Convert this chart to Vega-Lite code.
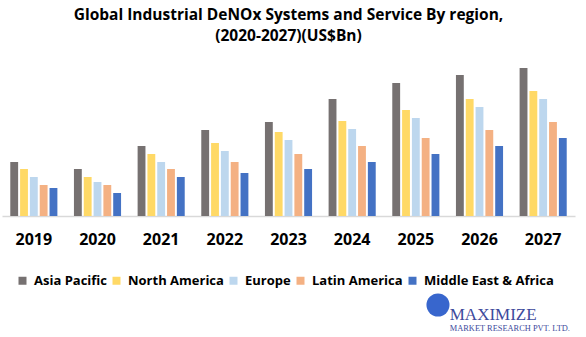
{
  "$schema": "https://vega.github.io/schema/vega-lite/v6.json",
  "autosize": "none",
  "width": 573,
  "height": 166,
  "padding": {"left": 2, "top": 50, "right": 11, "bottom": 121},
  "background": "white",
  "config": {"view": {"stroke": null}},
  "title": {
    "text": ["Global Industrial DeNOx Systems and Service By region,", "(2020-2027)(US$Bn)"],
    "font": "Open Sans",
    "fontSize": 15.5,
    "fontWeight": "bold",
    "color": "#000000",
    "anchor": "middle",
    "lineHeight": 21,
    "offset": 6
  },
  "datasets": {
    "bars": [
      {"year": "2019", "region": "Asia Pacific", "value": 5.4},
      {"year": "2019", "region": "North America", "value": 4.7},
      {"year": "2019", "region": "Europe", "value": 3.9},
      {"year": "2019", "region": "Latin America", "value": 3.1},
      {"year": "2019", "region": "Middle East & Africa", "value": 2.8},
      {"year": "2020", "region": "Asia Pacific", "value": 4.7},
      {"year": "2020", "region": "North America", "value": 3.9},
      {"year": "2020", "region": "Europe", "value": 3.4},
      {"year": "2020", "region": "Latin America", "value": 3.1},
      {"year": "2020", "region": "Middle East & Africa", "value": 2.3},
      {"year": "2021", "region": "Asia Pacific", "value": 7.0},
      {"year": "2021", "region": "North America", "value": 6.2},
      {"year": "2021", "region": "Europe", "value": 5.4},
      {"year": "2021", "region": "Latin America", "value": 4.7},
      {"year": "2021", "region": "Middle East & Africa", "value": 3.9},
      {"year": "2022", "region": "Asia Pacific", "value": 8.6},
      {"year": "2022", "region": "North America", "value": 7.3},
      {"year": "2022", "region": "Europe", "value": 6.5},
      {"year": "2022", "region": "Latin America", "value": 5.4},
      {"year": "2022", "region": "Middle East & Africa", "value": 4.3},
      {"year": "2023", "region": "Asia Pacific", "value": 9.4},
      {"year": "2023", "region": "North America", "value": 8.4},
      {"year": "2023", "region": "Europe", "value": 7.6},
      {"year": "2023", "region": "Latin America", "value": 6.2},
      {"year": "2023", "region": "Middle East & Africa", "value": 4.7},
      {"year": "2024", "region": "Asia Pacific", "value": 11.7},
      {"year": "2024", "region": "North America", "value": 9.5},
      {"year": "2024", "region": "Europe", "value": 8.7},
      {"year": "2024", "region": "Latin America", "value": 7.0},
      {"year": "2024", "region": "Middle East & Africa", "value": 5.4},
      {"year": "2025", "region": "Asia Pacific", "value": 13.3},
      {"year": "2025", "region": "North America", "value": 10.6},
      {"year": "2025", "region": "Europe", "value": 9.8},
      {"year": "2025", "region": "Latin America", "value": 7.8},
      {"year": "2025", "region": "Middle East & Africa", "value": 6.2},
      {"year": "2026", "region": "Asia Pacific", "value": 14.1},
      {"year": "2026", "region": "North America", "value": 11.7},
      {"year": "2026", "region": "Europe", "value": 10.9},
      {"year": "2026", "region": "Latin America", "value": 8.6},
      {"year": "2026", "region": "Middle East & Africa", "value": 7.0},
      {"year": "2027", "region": "Asia Pacific", "value": 14.8},
      {"year": "2027", "region": "North America", "value": 12.5},
      {"year": "2027", "region": "Europe", "value": 11.7},
      {"year": "2027", "region": "Latin America", "value": 9.4},
      {"year": "2027", "region": "Middle East & Africa", "value": 7.8}
    ],
    "logo": [
      {"year": "2025", "label": "MAXIMIZE", "pos": -9.9, "kind": "big"},
      {"year": "2025", "label": "MARKET RESEARCH PVT. LTD.", "pos": -11.2, "kind": "small"}
    ],
    "globe": [
      {"year": "2025", "pos": -8.9}
    ]
  },
  "layer": [
    {
      "data": {"name": "bars"},
      "mark": {"type": "bar"},
      "encoding": {
        "x": {
          "field": "year", "type": "nominal", "title": null,
          "scale": {"paddingInner": 0.26, "paddingOuter": 0.13},
          "axis": {
            "labelAngle": 0, "labelFont": "Open Sans", "labelFontSize": 16,
            "labelFontWeight": "bold", "labelColor": "#000000",
            "labelPadding": 15, "ticks": false, "domainColor": "#d9d9d9", "domainWidth": 1.5, "grid": false
          }
        },
        "xOffset": {
          "field": "region", "type": "nominal",
          "sort": ["Asia Pacific", "North America", "Europe", "Latin America", "Middle East & Africa"],
          "scale": {"paddingInner": 0.2}
        },
        "y": {
          "field": "value", "type": "quantitative",
          "scale": {"domain": [0, 16.6], "nice": false},
          "axis": null
        },
        "color": {
          "field": "region", "type": "nominal",
          "sort": ["Asia Pacific", "North America", "Europe", "Latin America", "Middle East & Africa"],
          "scale": {
            "domain": ["Asia Pacific", "North America", "Europe", "Latin America", "Middle East & Africa"],
            "range": ["#767171", "#FFD966", "#BDD7EE", "#F4B183", "#4472C4"]
          },
          "legend": {
            "title": null, "orient": "none", "direction": "horizontal",
            "legendX": 14, "legendY": 224,
            "symbolType": "square", "symbolSize": 64, "symbolStrokeWidth": 0,
            "labelFont": "Open Sans", "labelFontSize": 13, "labelFontWeight": "bold",
            "labelColor": "#000000", "columnPadding": 3, "labelOffset": 5
          }
        }
      }
    },
    {
      "data": {"name": "globe"},
      "mark": {"type": "point", "filled": true, "shape": "circle", "size": 530, "color": "#2255c8", "opacity": 0.9},
      "encoding": {
        "x": {"field": "year", "type": "nominal", "bandPosition": 0.97},
        "y": {"field": "pos", "type": "quantitative"}
      }
    },
    {
      "data": {"name": "logo"},
      "mark": {"type": "text", "align": "left", "font": "Liberation Serif", "color": "#3d4a9c"},
      "encoding": {
        "x": {"field": "year", "type": "nominal", "bandPosition": 1.22},
        "y": {"field": "pos", "type": "quantitative"},
        "text": {"field": "label"},
        "size": {
          "field": "kind", "type": "nominal",
          "scale": {"domain": ["big", "small"], "range": [17, 8.4]},
          "legend": null
        }
      }
    }
  ]
}
